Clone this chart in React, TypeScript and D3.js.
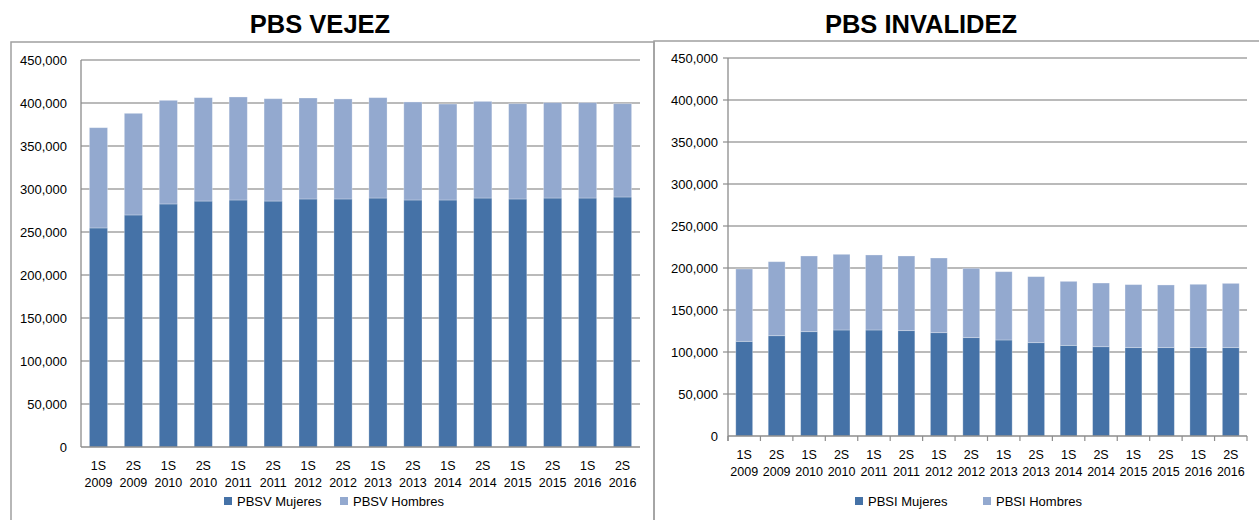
import React from 'react'
import * as d3 from 'd3'

// semester labels (two lines each)
const semesters = ['1S', '2S', '1S', '2S', '1S', '2S', '1S', '2S', '1S', '2S', '1S', '2S', '1S', '2S', '1S', '2S']
const years = ['2009', '2009', '2010', '2010', '2011', '2011', '2012', '2012', '2013', '2013', '2014', '2014', '2015', '2015', '2016', '2016']
const periods = semesters.map((s, i) => s + ' ' + years[i])

const vejezMujeres = [254700, 269800, 282600, 286000, 287200, 286000, 288400, 288400, 289500, 287200, 287200, 289500, 288400, 289500, 289500, 290700]
const vejezHombres = [116600, 118200, 120500, 120200, 119800, 119000, 117400, 116300, 116700, 114000, 111600, 112400, 110800, 110900, 110900, 108500]

const invalidezMujeres = [112700, 119400, 124200, 126200, 126200, 125400, 123000, 117100, 114300, 111100, 107900, 106300, 105200, 105200, 105200, 105200]
const invalidezHombres = [86100, 88100, 90100, 90100, 89300, 88900, 88900, 82500, 81300, 78600, 76200, 75800, 75000, 74600, 75400, 76500]

const yTicks = [0, 50000, 100000, 150000, 200000, 250000, 300000, 350000, 400000, 450000]

const darkBlue = '#4572a7'
const lightBlue = '#93a9cf'
const gridColor = '#a3a3a3'
const font = '"Liberation Sans", Arial, sans-serif'
const fmt = d3.format(',')

type Props = {
  title: string
  titleX: number
  frameX: number
  frameW: number
  frameY: number
  x0: number
  x1: number
  y0: number
  y1: number
  mujeres: number[]
  hombres: number[]
  names: [string, string]
  legendX: [number, number]
  ticks: boolean
}

function StackedChart(props: Props) {
  const { title, titleX, frameX, frameW, frameY, x0, x1, y0, y1, mujeres, hombres, names, legendX, ticks } = props

  const x = d3.scaleBand<string>().domain(periods).range([x0, x1]).paddingInner(0.48).paddingOuter(0.24)
  const y = d3.scaleLinear().domain([0, 450000]).range([y0, y1])
  const band = (x1 - x0) / periods.length

  const rows = periods.map((p, i) => ({ p, m: mujeres[i], h: hombres[i] }))
  const stack = d3.stack<any>().keys(['m', 'h'])(rows)
  const colors = [darkBlue, lightBlue]
  const tickLen = ticks ? 5 : 0

  return (
    <g>
      <text x={titleX} y={33} textAnchor="middle" fontFamily={font} fontWeight="bold" fontSize={25.5} fill="#000">{title}</text>
      <rect x={frameX} y={frameY} width={frameW} height={600} fill="none" stroke="#a0a0a0" strokeWidth={1.5} />

      {yTicks.map(t => (
        <g key={t}>
          {t > 0 && <line x1={x0 - tickLen} x2={x1} y1={y(t)} y2={y(t)} stroke={gridColor} strokeWidth={1.3} />}
          <text x={x0 - (ticks ? 10 : 14)} y={y(t)} dy="0.35em" textAnchor="end" fontFamily={font} fontSize={13} fill="#000">{fmt(t)}</text>
        </g>
      ))}

      {stack.map((layer, li) => (
        <g key={li}>
          {layer.map((d, i) => (
            <rect key={i} x={x(periods[i])} width={x.bandwidth()} y={y(d[1])} height={y(d[0]) - y(d[1])}
              fill={colors[li]} stroke="#ffffff" strokeOpacity={0.35} strokeWidth={0.8} />
          ))}
        </g>
      ))}

      <line x1={x0} x2={x0} y1={y1} y2={y0 + tickLen} stroke="#8c8c8c" strokeWidth={1.3} />
      <line x1={x0} x2={x1} y1={y0} y2={y0} stroke="#8c8c8c" strokeWidth={1.3} />
      {ticks && d3.range(periods.length + 1).map(i => (
        <line key={i} x1={x0 + i * band} x2={x0 + i * band} y1={y0} y2={y0 + tickLen} stroke="#8c8c8c" strokeWidth={1.2} />
      ))}

      {periods.map((p, i) => {
        const cx = (x(p) as number) + x.bandwidth() / 2
        return (
          <text key={p} x={cx} textAnchor="middle" fontFamily={font} fontSize={12.5} fill="#000">
            <tspan x={cx} y={y0 + 23}>{semesters[i]}</tspan>
            <tspan x={cx} y={y0 + 40}>{years[i]}</tspan>
          </text>
        )
      })}

      {names.map((n, i) => (
        <g key={n}>
          <rect x={legendX[i]} y={497} width={8} height={8} fill={colors[i]} />
          <text x={legendX[i] + 13} y={501} dy="0.35em" fontFamily={font} fontSize={13} fill="#000">{n}</text>
        </g>
      ))}
    </g>
  )
}

export default function App() {
  return (
    <svg width={1259} height={520} style={{ position: 'absolute', left: 0, top: 0, background: '#fff' }}>
      <rect width={1259} height={520} fill="#fff" />
      <StackedChart title="PBS VEJEZ" titleX={320} frameX={11} frameW={643} frameY={42}
        x0={81} x1={640} y0={447} y1={60}
        mujeres={vejezMujeres} hombres={vejezHombres}
        names={['PBSV Mujeres', 'PBSV Hombres']} legendX={[224, 340]} ticks={false} />
      <StackedChart title="PBS INVALIDEZ" titleX={921} frameX={654} frameW={700} frameY={41}
        x0={728} x1={1247} y0={436} y1={58}
        mujeres={invalidezMujeres} hombres={invalidezHombres}
        names={['PBSI Mujeres', 'PBSI Hombres']} legendX={[855, 983]} ticks={true} />
    </svg>
  )
}
